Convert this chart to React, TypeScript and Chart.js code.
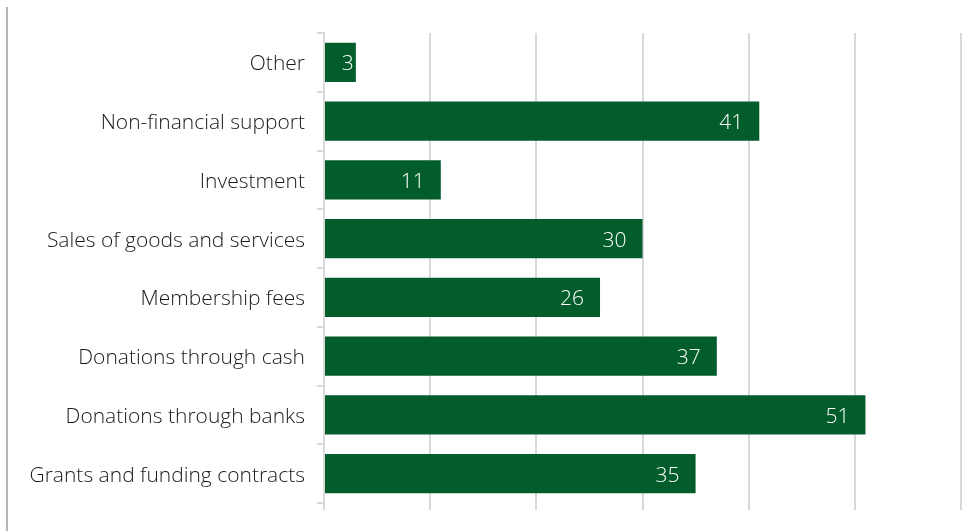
import React, { useEffect, useRef } from "react";
import { Chart, registerables } from "chart.js";

Chart.register(...registerables);

const categories: string[] = [
  "Other",
  "Non-financial support",
  "Investment",
  "Sales of goods and services",
  "Membership fees",
  "Donations through cash",
  "Donations through banks",
  "Grants and funding contracts",
];
const values: number[] = [3, 41, 11, 30, 26, 37, 51, 35];
const xMin = 0;
const xMax = 60;
const xStep = 10;

const BAR = "#035c2b";
const GRID = "#d9d9d9";
const FONT = "'Open Sans', Lato, sans-serif";

const labelPlugin = {
  id: "barLabels",
  afterDatasetsDraw(chart: any) {
    const ctx = chart.ctx;
    const meta = chart.getDatasetMeta(0);
    ctx.save();
    ctx.font = `300 21px ${FONT}`;
    ctx.fillStyle = "#ffffff";
    ctx.textAlign = "right";
    ctx.textBaseline = "middle";
    meta.data.forEach((bar: any, i: number) => {
      const txt = String(values[i]);
      const w = ctx.measureText(txt).width;
      const barW = bar.x - bar.base;
      const pad = w + 32 > barW ? 2 : 16;
      ctx.fillText(txt, bar.x - pad, bar.y + 2);
    });
    ctx.restore();
  },
};

export default function App() {
  const ref = useRef<HTMLCanvasElement | null>(null);
  useEffect(() => {
    if (!ref.current) return;
    const chart = new Chart(ref.current, {
      type: "bar",
      data: {
        labels: categories,
        datasets: [
          {
            data: values,
            backgroundColor: BAR,
            borderWidth: 0,
            barPercentage: 0.67,
            categoryPercentage: 1,
          },
        ],
      },
      plugins: [labelPlugin],
      options: {
        indexAxis: "y",
        animation: false,
        responsive: false,
        maintainAspectRatio: false,
        layout: { padding: { top: 33, right: 15, left: 0, bottom: 0 } },
        plugins: {
          legend: { display: false },
          tooltip: { enabled: false },
          title: { display: false },
        },
        scales: {
          x: {
            min: xMin,
            max: xMax,
            ticks: { display: false, stepSize: xStep },
            grid: {
              color: GRID,
              lineWidth: 2,
              drawTicks: true,
              tickLength: 7,
            },
            border: { display: false },
            afterFit: (s: any) => {
              s.height = 28;
            },
          },
          y: {
            ticks: {
              color: "#1a1a1a",
              font: { family: FONT, size: 21, weight: "300" },
              padding: 12,
              labelOffset: 2,
            },
            grid: {
              color: GRID,
              lineWidth: 2,
              drawOnChartArea: false,
              drawTicks: true,
              tickLength: 7,
            },
            border: { display: true, color: GRID, width: 2 },
            afterFit: (s: any) => {
              s.width = 324;
            },
          },
        },
      },
    });
    return () => chart.destroy();
  }, []);

  return (
    <div style={{ position: "fixed", left: 0, top: 0, width: 976, height: 531, background: "#fff" }}>
      <div style={{ position: "absolute", left: 6, top: 7, width: 2, height: 524, background: "#b5b5b5" }} />
      <canvas ref={ref} width={976} height={531} style={{ position: "absolute", left: 0, top: 0 }} />
    </div>
  );
}
